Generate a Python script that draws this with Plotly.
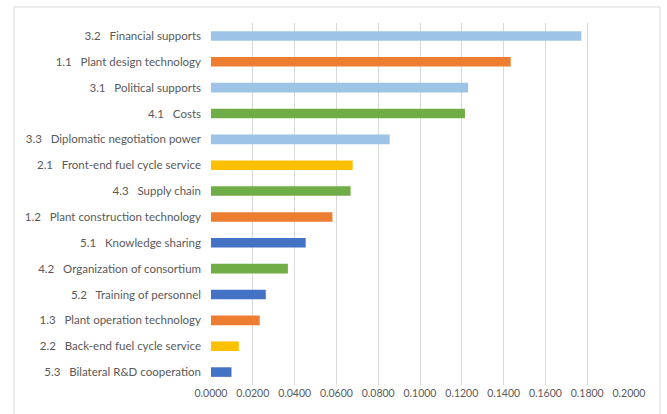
import plotly.graph_objects as go

NB = "\u00a0\u00a0\u00a0"
codes = ["3.2", "1.1", "3.1", "4.1", "3.3", "2.1", "4.3",
         "1.2", "5.1", "4.2", "5.2", "1.3", "2.2", "5.3"]
names = [
    "Financial supports",
    "Plant design technology",
    "Political supports",
    "Costs",
    "Diplomatic negotiation power",
    "Front-end fuel cycle service",
    "Supply chain",
    "Plant construction technology",
    "Knowledge sharing",
    "Organization of consortium",
    "Training of personnel",
    "Plant operation technology",
    "Back-end fuel cycle service",
    "Bilateral R&D cooperation",
]
values = [0.1772, 0.1434, 0.1230, 0.1215, 0.0855, 0.0678, 0.0668,
          0.0581, 0.0453, 0.0368, 0.0262, 0.0233, 0.0133, 0.0098]
groups = ["3", "1", "3", "4", "3", "2", "4", "1", "5", "4", "5", "1", "2", "5"]
tick_values = [0.0, 0.02, 0.04, 0.06, 0.08, 0.10, 0.12, 0.14, 0.16, 0.18, 0.20]

group_colors = {"1": "#ED7D31", "2": "#FFC000", "3": "#9DC3E6", "4": "#70AD47", "5": "#4472C4"}

categories = [c + NB + n for c, n in zip(codes, names)]

fig = go.Figure(go.Bar(
    x=values, y=categories, orientation="h",
    marker=dict(color=[group_colors[g] for g in groups], line=dict(width=0)),
    width=0.37,
))

font = dict(family="Lato, Liberation Sans, sans-serif", size=11.5, color="#595959")
fig.update_layout(
    width=667, height=414,
    margin=dict(l=211, r=38, t=23, b=29),
    paper_bgcolor="white", plot_bgcolor="white",
    showlegend=False, font=font,
    xaxis=dict(range=[0, 0.2], tickvals=tick_values, tickformat=".4f",
               showgrid=True, gridcolor="#D9D9D9", gridwidth=1,
               zeroline=False, showline=False, ticks="", fixedrange=True,
               tickfont=dict(size=10.5)),
    yaxis=dict(categoryorder="array", categoryarray=categories,
               autorange="reversed", showgrid=False, zeroline=False,
               showline=False, ticks="", ticklabelstandoff=9),
    shapes=[dict(type="rect", xref="paper", yref="paper",
                 x0=-0.4713, x1=1.074, y0=-0.2, y1=1.0442,
                 line=dict(color="#D9D9D9", width=1), fillcolor="rgba(0,0,0,0)",
                 layer="below")],
)
fig.write_html("out.html")
